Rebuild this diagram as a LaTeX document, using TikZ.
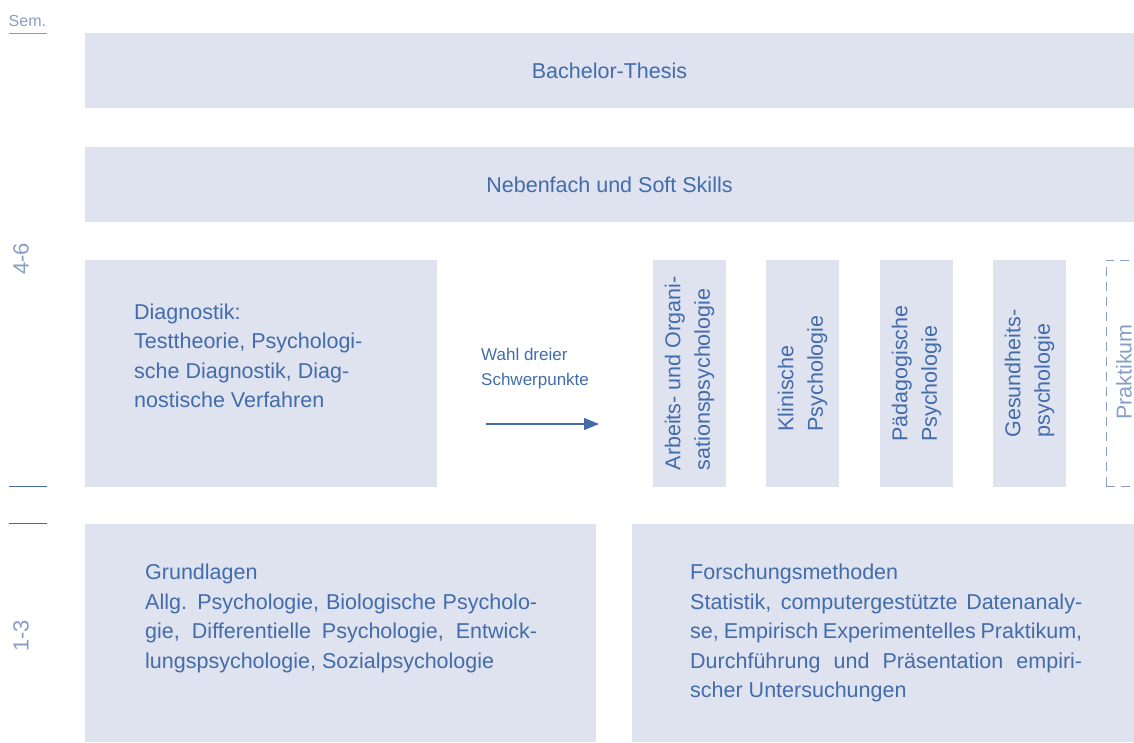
\documentclass[tikz,border=0pt]{standalone}
\usepackage{fontspec}
\setmainfont{Liberation Sans}
\usetikzlibrary{arrows.meta}
\definecolor{boxfill}{RGB}{223,226,239}
\definecolor{txtblue}{RGB}{66,108,170}
\definecolor{lightblue}{RGB}{135,158,198}
\definecolor{rulblue}{RGB}{70,108,170}
\newcommand{\jline}[1]{\makebox[392pt][s]{#1}}
\tikzset{
  box/.style={fill=boxfill, draw=none, inner sep=0pt, rectangle},
  main/.style={text=txtblue, font=\fontsize{21.5}{29.5}\selectfont, inner sep=0pt},
  small/.style={text=txtblue, font=\fontsize{17}{25}\selectfont, inner sep=0pt},
  pale/.style={text=lightblue, inner sep=0pt},
  vtext/.style={main, rotate=90, align=left},
}
\begin{document}
\begin{tikzpicture}[x=1pt,y=-1pt]
\useasboundingbox (0,0) rectangle (1134,742);
\clip (0,0) rectangle (1134,742);
% boxes
\node[box, minimum width=1049pt, minimum height=75pt, main] (thesis) at (609.5,70.5) {Bachelor-Thesis};
\node[box, minimum width=1049pt, minimum height=75pt, main] (neben) at (609.5,184.5) {Nebenfach und Soft Skills};
\node[box, minimum width=352pt, minimum height=227pt] (diag) at (261,373.5) {};
\node[box, minimum width=73pt, minimum height=227pt] (ao) at (689.5,373.5) {};
\node[box, minimum width=73pt, minimum height=227pt] (kp) at (802.5,373.5) {};
\node[box, minimum width=73pt, minimum height=227pt] (pp) at (916.5,373.5) {};
\node[box, minimum width=73pt, minimum height=227pt] (gp) at (1029.5,373.5) {};
\node[box, minimum width=511pt, minimum height=218pt] (grund) at (340.5,633) {};
\node[box, minimum width=502pt, minimum height=218pt] (forsch) at (883,633) {};
% dashed Praktikum frame
\draw[lightblue, line width=1pt, dash pattern=on 9pt off 6pt] (1106,486) -- (1106,260) -- (1150,260);
\draw[lightblue, line width=1pt, dash pattern=on 9pt off 6pt] (1106,486) -- (1150,486);
% texts
\node[main, anchor=north west, align=left] (diagtxt) at (134,303.5)
  {Diagnostik:\\Testtheorie, Psychologi-\\sche Diagnostik, Diag-\\nostische Verfahren};
\node[small, anchor=north west, align=left] (wahl) at (481,348) {Wahl dreier\\Schwerpunkte};
\node[vtext] (aotxt) at (ao.center) {Arbeits- und Organi-\\sationspsychologie};
\node[vtext] (kptxt) at (kp.center) {Klinische\\Psychologie};
\node[vtext] (pptxt) at (pp.center) {Pädagogische\\Psychologie};
\node[vtext] (gptxt) at (gp.center) {Gesundheits-\\psychologie};
\node[pale, font=\fontsize{21.5}{29.5}\selectfont, rotate=90] (prak) at (1124,372) {Praktikum};
\node[main, anchor=north west, align=left] (grundtxt) at (145,564)
  {Grundlagen\\
   \jline{Allg. Psychologie, Biologische Psycholo-}\\
   \jline{gie, Differentielle Psychologie, Entwick-}\\
   lungspsychologie, Sozialpsychologie};
\node[main, anchor=north west, align=left] (forschtxt) at (690,564)
  {Forschungsmethoden\\
   \jline{Statistik, computergestützte Datenanaly-}\\
   \jline{se, Empirisch Experimentelles Praktikum,}\\
   \jline{Durchführung und Präsentation empiri-}\\
   scher Untersuchungen};
% arrow
\coordinate (arrS) at (486,424);
\coordinate (arrE) at (599,424);
\draw[txtblue, line width=1.1pt, -{Triangle[length=15pt,width=12pt]}] (arrS) -- (arrE);
% left scale
\node[pale, font=\fontsize{16}{18}\selectfont, anchor=base west] (sem) at (8.5,26) {Sem.};
\coordinate (semL) at (9,33.5);
\coordinate (semR) at (47,33.5);
\draw[lightblue, line width=1pt] (semL) -- (semR);
\node[pale, font=\fontsize{22}{24}\selectfont, rotate=90] (s46) at (21,259) {4-6};
\node[pale, font=\fontsize{22}{24}\selectfont, rotate=90] (s13) at (21,636) {1-3};
\coordinate (r1L) at (9,486.5);
\coordinate (r1R) at (47,486.5);
\coordinate (r2L) at (9,523.5);
\coordinate (r2R) at (47,523.5);
\draw[rulblue, line width=1.1pt] (r1L) -- (r1R);
\draw[rulblue, line width=1.1pt] (r2L) -- (r2R);
\end{tikzpicture}
\end{document}
